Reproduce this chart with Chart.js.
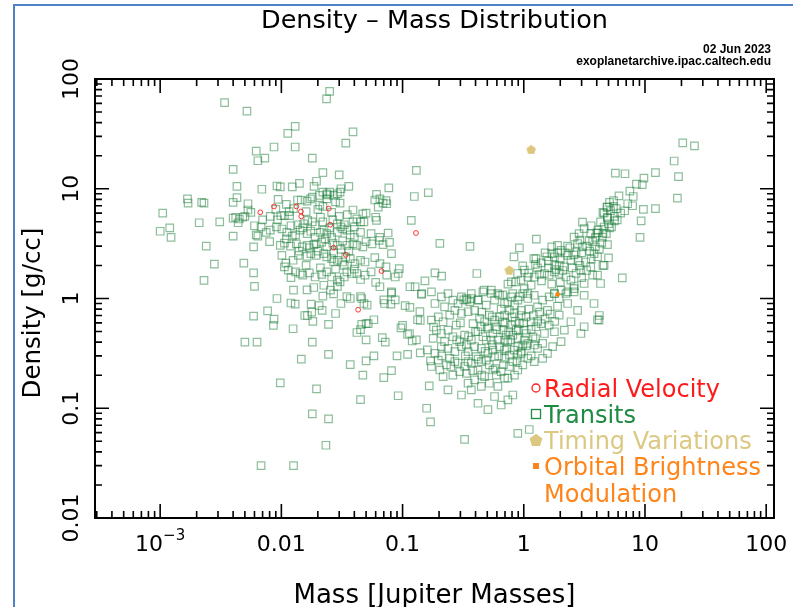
<!DOCTYPE html>
<html>
<head>
<meta charset="utf-8">
<script src="https://cdn.jsdelivr.net/npm/chart.js@4.4.0/dist/chart.umd.min.js"></script>
<style>
html,body{margin:0;padding:0;background:#fff;}
canvas{display:block;}
</style>
</head>
<body>
<canvas id="c" width="793" height="607"></canvas>
<script>
// ---- Data (mass in Jupiter masses, density in g/cc) ----
const radialVelocity = [[0.0067,6.1],[0.0087,6.9],[0.0133,6.9],[0.0145,6.2],[0.0146,5.6],[0.0246,6.6],[0.0253,4.7],[0.034,2.5],[0.027,2.9],[0.067,1.78],[0.129,3.95],[0.043,0.79]];
const timingVariations = [[1.15,22.8],[0.76,1.82]];
const orbitalBrightness = [[1.9,1.09]];
const transits = [
[0.0034,61],[0.0052,51],[0.025,77],[0.0236,66],[0.013,37],[0.0113,32],[0.039,33],[0.034,26],[0.013,24],[0.0087,24],[0.0062,22],[0.0064,18],[0.0073,19],[0.018,19],[0.004,15],[0.022,14],[0.030,13.4],[0.13,14.7],
[0.0043,10.5],[0.0069,9.9],[0.0092,10.6],[0.0098,10.4],[0.0141,11.2],[0.0123,10.4],[0.0186,10.5],[0.0195,11.7],[0.022,9.3],[0.0237,9.0],[0.025,9.3],[0.0305,9.3],[0.031,10],[0.036,10.5],[0.077,10.2],[0.125,8.5],[0.163,9.2],[0.0043,8.3],[0.0094,8.0],[0.0136,7.9],[0.0146,7.9],[0.018,8.4],[0.0206,8.7],[0.024,8.8],[0.027,8.7],[0.029,9.0],[0.061,8.9],[0.065,8.1],[0.073,7.8],
[0.00168,8.1],[0.0017,7.4],[0.0022,7.5],[0.0023,7.4],[0.0040,7.5],[0.0053,7.3],[0.0116,6.2],[0.0126,6.6],[0.0163,7.7],[0.0174,8.1],[0.0207,7.1],[0.022,6.9],[0.0237,8.1],[0.028,7.6],[0.0305,7.4],[0.039,6.4],[0.047,5.9],[0.050,6.0],[0.059,7.9],[0.069,7.4],[0.074,7.3],[0.063,6.8],
[0.00105,6.0],[0.0040,5.4],[0.0042,5.5],[0.0044,4.9],[0.0045,5.3],[0.0048,5.5],[0.0050,5.6],[0.0053,6.4],[0.0056,6.1],[0.0068,4.5],[0.0081,5.6],[0.0093,5.2],[0.0099,5.7],[0.0106,5.7],[0.0117,5.7],[0.0136,4.7],[0.0153,4.8],[0.0165,5.15],[0.018,5.0],[0.021,5.5],[0.022,5.0],[0.0266,5.2],[0.029,4.8],[0.031,4.5],[0.033,4.7],[0.039,5.0],[0.042,5.3],[0.045,5.0],[0.048,5.0],[0.060,5.5],[0.061,5.15],[0.118,5.15],
[0.0010,4.1],[0.0012,4.4],[0.00123,3.6],[0.0021,4.9],[0.0031,5.0],[0.0040,3.7],[0.0062,3.8],[0.0064,3.7],[0.0081,4.2],[0.0091,4.5],[0.0101,4.3],[0.0111,4.0],[0.0123,3.7],[0.0131,3.8],[0.0143,4.2],[0.0163,3.9],[0.0175,4.1],[0.019,3.6],[0.021,4.0],[0.0225,4.2],[0.0237,3.9],[0.026,3.6],[0.029,4.0],[0.032,4.3],[0.0347,4.2],[0.037,3.8],[0.040,4.5],[0.045,4.0],[0.055,3.9],[0.065,3.6],[0.076,3.95],
[0.0059,2.95],[0.0024,3.0],[0.0098,3.05],[0.0106,3.2],[0.0119,3.0],[0.0133,3.15],[0.0149,2.95],[0.0163,3.05],[0.0185,3.1],[0.0194,3.15],[0.0215,3.27],[0.0237,2.95],[0.0266,3.2],[0.029,3.05],[0.032,3.35],[0.0347,3.05],[0.039,3.15],[0.042,3.05],[0.047,2.95],[0.056,3.15],[0.064,3.39],[0.069,3.1],[0.078,3.25],[0.081,2.56],
[0.0101,2.47],[0.0109,2.1],[0.0125,2.23],[0.0138,2.47],[0.0163,2.42],[0.0175,2.56],[0.0194,2.47],[0.0224,2.56],[0.0237,2.39],[0.026,2.31],[0.027,2.15],[0.029,2.23],[0.032,2.15],[0.034,2.39],[0.037,2.31],[0.0405,2.08],[0.045,2.23],[0.049,2.15],[0.059,2.36],[0.065,2.08],[0.073,1.94],[0.094,1.87],[0.0049,2.1],[0.0028,2.06],
[0.0023,1.46],[0.0059,1.71],[0.0106,1.94],[0.0114,1.81],[0.0131,1.75],[0.0143,1.69],[0.015,1.63],[0.0170,1.71],[0.019,1.57],[0.0215,1.66],[0.0237,1.75],[0.026,1.57],[0.029,1.47],[0.033,1.57],[0.0347,1.75],[0.038,1.69],[0.042,1.69],[0.045,1.49],[0.049,1.63],[0.074,1.63],[0.087,1.57],[0.092,1.69],[0.115,1.28],[0.153,1.45],
[0.006,1.29],[0.0092,1.0],[0.0126,1.19],[0.0163,1.2],[0.0185,1.26],[0.0224,1.32],[0.0254,1.19],[0.029,1.29],[0.0305,1.42],[0.0347,1.04],[0.037,1.0],[0.045,1.04],[0.065,1.28],[0.070,0.97],[0.081,1.15],[0.087,0.97],[0.127,1.28],[0.144,1.11],
[0.012,0.91],[0.013,0.89],[0.0176,0.89],[0.0205,0.86],[0.0217,0.78],[0.028,0.73],[0.031,0.9],[0.046,1.0],[0.048,0.9],[0.051,0.87],[0.081,1.12],[0.071,0.9],[0.08,0.89],[0.105,0.86],[0.115,0.83],[0.143,1.09],[0.139,0.76],[0.133,0.64],[0.0059,0.69],[0.0077,0.77],[0.0087,0.65],[0.0086,0.57],[0.0125,0.53],[0.0156,0.7],[0.0164,0.7],[0.0178,0.75],[0.0182,0.62],[0.0245,0.58],[0.042,0.49],[0.045,0.52],[0.046,0.58],[0.05,0.59],[0.052,0.59],[0.05,0.42],[0.058,0.64],[0.068,0.44],[0.072,0.4],[0.097,0.54],[0.1,0.57],[0.11,0.47],[0.114,0.48],[0.12,0.41],[0.13,0.42],[0.14,0.63],[0.14,0.32],[0.16,0.34],[0.17,0.27],[0.005,0.4],[0.0063,0.4],[0.018,0.4],[0.0146,0.28],[0.0245,0.31],[0.037,0.25],[0.05,0.27],[0.058,0.3],[0.047,0.2],[0.07,0.19],[0.081,0.22],[0.09,0.3],[0.11,0.31],[0.092,0.13],[0.166,0.16],[0.158,0.1],[0.17,0.075],[0.0098,0.17],[0.0195,0.15],[0.045,0.12],[0.018,0.089],[0.0245,0.08],[0.0233,0.046],[0.0068,0.03],[0.0126,0.03],
[0.203,3.18],[0.36,2.99],[0.185,1.71],[0.21,1.6],[0.41,1.69],[1.27,3.48],[0.92,2.89],[0.83,2.39],[1.21,2.31],[1.26,2.31],[1.39,2.11],[0.98,1.98],[1.01,1.81],[0.89,1.69],[0.79,1.42],[0.86,1.42],[0.95,1.47],[1.08,1.57],[1.22,1.57],[1.35,1.66],[1.48,1.69],[1.62,1.63],[1.79,1.75],[1.96,1.69],[1.7,2.95],[1.9,3.05],[1.7,2.56],[1.79,2.39],[2.03,2.75],[2.16,1.94],[1.96,2.0],[1.84,1.83],[2.23,1.57],[2.45,1.47],[2.7,1.69],[2.96,1.81],[2.6,3.63],[2.86,3.9],[2.78,3.17],[3.05,2.95],[2.7,2.66],[2.45,2.23],[2.3,2.47],[3.15,4.33],[3.05,4.97],[3.57,3.9],[4.0,3.95],[3.46,3.39],[3.8,2.56],[3.25,2.15],[3.57,1.94],[4.6,6.0],[4.85,6.8],[4.9,5.5],[4.6,4.48],[4.45,3.63],[3.9,2.95],[4.6,2.0],[3.7,1.63],[4.3,1.37],[3.15,1.37],[2.6,1.23],[2.3,1.15],[2.03,1.19],[1.79,1.11],[1.15,1.32],[1.08,1.11],[1.01,1.23],[0.92,1.04],[0.81,1.11],[0.74,1.35],[0.67,1.08],[0.61,1.11],[0.54,1.19],[0.47,1.19],[0.42,0.97],[0.34,0.97],[0.32,0.97],[0.37,1.0],
[20.5,26.2],[25.6,24.6],[17.4,17.9],[5.7,13.9],[6.84,13.7],[9.8,12.5],[12.2,14.0],[9.5,10.9],[18.9,12.9],[18.5,8.2],[8.0,8.5],[7.2,7.3],[7.9,7.0],[9.7,6.5],[12.2,6.6],[5.1,7.5],[4.9,6.8],[5.5,6.9],[5.8,6.6],[4.5,6.1],[5.2,6.3],[5.6,5.6],[5.6,5.1],[4.9,5.4],[5.0,4.8],[5.1,4.4],[9.3,5.1],[4.06,3.95],[4.5,3.95],[9.1,3.6],[4.9,3.1],[4.06,2.4],[5.0,2.35],[4.5,2.0],[6.5,1.54],[4.06,1.63],[4.06,0.64],[4.2,0.7],
[0.173,1.15],[0.209,1.035],[0.237,1.11],[0.26,0.965],[0.306,1.035],[0.336,1.0],[0.369,1.11],[0.419,0.965],[0.46,1.15],[0.539,1.11],[0.574,0.965],[0.631,1.07],[0.694,0.9],[0.787,1.035],[0.893,0.965],[0.981,1.11],[1.08,1.0],[1.22,1.07],[1.43,0.965],[1.62,1.035],[1.79,1.11],[1.96,1.0],[2.23,1.11],[2.6,1.15],[3.15,1.07],[3.8,0.9],[4.18,0.635],[3.15,0.553],[2.96,0.48],[1.96,0.705],[2.03,0.404],[1.79,0.498],[1.48,0.48],[1.39,0.59],[1.26,0.553],[1.15,0.614],[1.045,0.68],[0.951,0.78],[0.838,0.73],[0.762,0.78],[0.694,0.705],[0.631,0.68],[0.574,0.635],[0.52,0.705],[0.475,0.614],[0.432,0.66],[0.393,0.78],[0.347,0.757],[0.306,0.73],[0.27,0.78],[0.245,0.705],[0.216,0.614],[0.197,0.68],[0.173,0.635],
[0.179,0.433],[0.209,0.48],[0.237,0.516],[0.26,0.448],[0.296,0.404],[0.325,0.464],[0.369,0.418],[0.419,0.498],[0.46,0.448],[0.506,0.534],[0.556,0.48],[0.612,0.418],[0.672,0.516],[0.739,0.404],[0.812,0.464],[0.893,0.433],[0.981,0.377],[1.08,0.39],[1.19,0.448],[1.3,0.351],[1.43,0.39],[1.57,0.316],[1.43,0.285],[1.22,0.266],[1.08,0.285],[0.951,0.316],[0.838,0.339],[0.762,0.305],[0.694,0.339],[0.631,0.364],[0.556,0.339],[0.506,0.316],[0.446,0.351],[0.393,0.364],[0.347,0.328],[0.306,0.364],[0.27,0.328],[0.237,0.351],[0.209,0.364],[0.185,0.316],
[0.173,0.24],[0.203,0.223],[0.23,0.248],[0.26,0.2],[0.296,0.216],[0.325,0.24],[0.369,0.257],[0.419,0.223],[0.475,0.194],[0.52,0.248],[0.593,0.2],[0.651,0.216],[0.762,0.24],[0.838,0.2],[0.893,0.223],[0.393,0.181],[0.446,0.158],[0.52,0.169],[0.612,0.158],[0.739,0.188],[0.306,0.132],[0.369,0.147],[0.419,0.111],[0.506,0.097],[0.651,0.107],[0.812,0.132],[0.893,0.059],[1.11,0.064],[0.325,0.052],
[0.593,0.553],[0.672,0.614],[0.787,0.571],[0.865,0.516],[0.716,0.464],[0.539,0.418],[0.893,0.305],[0.694,0.285],[0.812,0.266],[0.49,0.275],[0.405,0.295],[0.347,0.266],[0.287,0.257],[0.245,0.285],[0.197,0.275],
[0.185,0.9],[0.222,0.84],[0.287,0.9],[0.358,0.93],[0.49,0.87],[0.739,0.93],[0.838,0.87],[1.3,0.84],[1.57,0.78],[2.3,0.9],[2.78,0.78],[2.45,0.614],[2.16,0.516],[1.62,0.571],[1.01,0.516],[0.92,0.59],[0.446,0.553],[0.381,0.59],[0.277,0.571],[0.19,0.516],[0.222,0.404],[0.336,0.377],[0.49,0.418],[0.694,0.418],[1.01,0.418],[1.22,0.377],[1.73,0.364],[0.893,0.364],[0.574,0.295],[0.446,0.266],[0.27,0.266],[0.216,0.194],[0.336,0.208],[0.556,0.223],[0.694,0.188],[0.981,0.248],[0.347,0.169],[0.237,0.147],[0.574,0.128],[0.739,0.119],
[1.5,2.6],[1.6,2.2],[1.8,2.0],[2.0,2.3],[2.2,2.6],[2.4,2.9],[2.6,2.5],[2.8,2.2],[3.0,2.6],[3.3,3.0],[3.5,2.7],[3.7,3.3],[2.1,1.8],[2.5,1.9],[2.9,2.0],[3.3,1.8],[3.6,2.3],[4.2,2.8],[4.4,3.2],[3.9,3.6],[4.1,4.2],[4.8,3.9],[5.3,4.5],[5.9,5.2],[6.3,6.0],[6.8,6.3],[5.5,7.8],[6.1,8.6],[7.5,9.5],[8.5,11],[4.3,5.0],[3.6,4.6],[2.9,3.4],[2.3,3.0],[1.9,2.6],[1.6,1.9],[1.4,1.45],[1.7,1.35],[2.0,1.4],[2.6,1.3],[3.0,1.55],[1.3,1.9],[1.1,1.7],[1.25,2.05],[1.55,2.4],
[0.45,0.75],[0.5,0.55],[0.55,0.68],[0.6,0.52],[0.65,0.8],[0.7,0.6],[0.75,0.5],[0.8,0.68],[0.85,0.62],[0.9,0.52],[0.95,0.7],[1.0,0.6],[1.05,0.48],[1.1,0.8],[1.15,0.52],[1.2,0.7],[1.3,0.62],[1.35,0.75],[1.5,0.65],[1.65,0.72],[1.8,0.62],[1.9,0.85],[0.4,0.5],[0.35,0.45],[0.3,0.6],[0.28,0.42],[0.33,0.3],[0.42,0.28],[0.48,0.33],[0.55,0.38],[0.62,0.3],[0.68,0.25],[0.72,0.35],[0.78,0.42],[0.88,0.27],[0.95,0.33],[1.05,0.37],[1.15,0.3],[1.25,0.43],[0.58,0.23],[0.45,0.2],[0.38,0.22],[0.25,0.24],[0.21,0.3],[0.18,0.55],
[0.008,3.3],[0.011,3.5],[0.014,2.7],[0.017,2.9],[0.02,2.7],[0.023,3.5],[0.027,2.6],[0.031,2.8],[0.036,2.7],[0.04,3.6],[0.05,3.3],[0.012,4.6],[0.015,4.4],[0.019,4.6],[0.025,4.4],[0.03,5.6],[0.035,5.8],[0.016,6.2],[0.02,6.5],[0.026,6.1],[0.011,7.2],[0.009,6.5],[0.007,5.2],[0.0075,4.0],[0.006,4.6],[0.016,2.0],[0.021,1.9],[0.028,1.85],[0.033,2.0],[0.04,1.85],[0.012,1.55],[0.055,1.75],[0.06,1.4],[0.022,1.05],[0.027,1.1]
];

// Axis ticks and labels
const xMajorValues = [0.001, 0.01, 0.1, 1, 10, 100];
const xMajorLabels = ['10^−3', '0.01', '0.1', '1', '10', '100'];
const yMajorValues = [0.01, 0.1, 1, 10, 100];
const yMajorLabels = ['0.01', '0.1', '1', '10', '100'];

const titleText = 'Density – Mass Distribution';
const dateText = '02 Jun 2023';
const siteText = 'exoplanetarchive.ipac.caltech.edu';
const xTitle = 'Mass [Jupiter Masses]';
const yTitle = 'Density [g/cc]';
const legendItems = [
  {label: ['Radial Velocity'], color: '#ff1a1a', marker: 'circle'},
  {label: ['Transits'], color: '#1e8a42', marker: 'square'},
  {label: ['Timing Variations'], color: '#dcc882', marker: 'pentagon'},
  {label: ['Orbital Brightness', 'Modulation'], color: '#ff8419', marker: 'filled'}
];

const FONT = '"DejaVu Sans", sans-serif';
const toXY = arr => arr.map(p => ({x: p[0], y: p[1]}));

function pentagonPath(g, cx, cy, r) {
  g.beginPath();
  for (let i = 0; i < 5; i++) {
    const a = -Math.PI / 2 + i * 2 * Math.PI / 5;
    const px = cx + r * Math.cos(a), py = cy + r * Math.sin(a);
    if (i) g.lineTo(px, py); else g.moveTo(px, py);
  }
  g.closePath();
}
function pentagonCanvas(size, color) {
  const c = document.createElement('canvas');
  c.width = size; c.height = size;
  const g = c.getContext('2d');
  g.fillStyle = color;
  pentagonPath(g, size / 2, size / 2 + size * 0.06, size / 2);
  g.fill();
  return c;
}

const decor = {
  id: 'decor',
  beforeDraw(chart) {
    const ctx = chart.ctx;
    ctx.save();
    ctx.fillStyle = '#fff';
    ctx.fillRect(0, 0, chart.width, chart.height);
    ctx.restore();
  },
  afterDraw(chart) {
    const {ctx, chartArea: a, scales} = chart;
    const xs = scales.x, ys = scales.y;
    ctx.save();
    // outer blue frame
    ctx.strokeStyle = '#4f81c7';
    ctx.lineWidth = 2;
    ctx.beginPath();
    ctx.moveTo(14, 607); ctx.lineTo(14, 5); ctx.lineTo(793, 5);
    ctx.stroke();

    // plot box
    ctx.strokeStyle = '#000';
    ctx.lineWidth = 2;
    ctx.strokeRect(a.left, a.top, a.right - a.left, a.bottom - a.top);

    // ticks
    ctx.lineWidth = 1.6;
    ctx.beginPath();
    const xmin = xs.min, xmax = xs.max, ymin = ys.min, ymax = ys.max;
    for (let d = Math.floor(Math.log10(xmin)); d <= Math.ceil(Math.log10(xmax)); d++) {
      for (let k = 1; k <= 9; k++) {
        const v = k * Math.pow(10, d);
        if (v < xmin * 1.001 || v > xmax * 0.999) continue;
        const px = xs.getPixelForValue(v);
        const len = k === 1 ? 14 : 7;
        ctx.moveTo(px, a.bottom); ctx.lineTo(px, a.bottom - len);
        ctx.moveTo(px, a.top); ctx.lineTo(px, a.top + len);
      }
    }
    for (let d = Math.floor(Math.log10(ymin)); d <= Math.ceil(Math.log10(ymax)); d++) {
      for (let k = 1; k <= 9; k++) {
        const v = k * Math.pow(10, d);
        if (v < ymin * 1.001 || v > ymax * 0.999) continue;
        const py = ys.getPixelForValue(v);
        const len = k === 1 ? 14 : 7;
        ctx.moveTo(a.left, py); ctx.lineTo(a.left + len, py);
        ctx.moveTo(a.right, py); ctx.lineTo(a.right - len, py);
      }
    }
    ctx.stroke();

    // x tick labels
    ctx.fillStyle = '#000';
    ctx.textBaseline = 'alphabetic';
    const lblFont = '22px ' + FONT, supFont = '15px ' + FONT;
    xMajorValues.forEach((v, i) => {
      const px = xs.getPixelForValue(v);
      const lab = xMajorLabels[i];
      const base = 551;
      if (lab.includes('^')) {
        const [b, e] = lab.split('^');
        ctx.font = lblFont; const wb = ctx.measureText(b).width;
        ctx.font = supFont; const we = ctx.measureText(e).width;
        const x0 = px - (wb + we) / 2;
        ctx.font = lblFont; ctx.textAlign = 'left'; ctx.fillText(b, x0, base);
        ctx.font = supFont; ctx.fillText(e, x0 + wb, base - 11);
      } else {
        ctx.font = lblFont; ctx.textAlign = 'center';
        ctx.fillText(lab, px, base);
      }
    });
    // y tick labels (rotated)
    yMajorValues.forEach((v, i) => {
      const py = ys.getPixelForValue(v);
      ctx.save();
      ctx.translate(78, py);
      ctx.rotate(-Math.PI / 2);
      ctx.font = lblFont; ctx.textAlign = 'center';
      ctx.fillText(yMajorLabels[i], 0, 0);
      ctx.restore();
    });

    // axis titles
    ctx.font = '26px ' + FONT;
    ctx.textAlign = 'center';
    ctx.fillText(xTitle, (a.left + a.right) / 2, 603);
    ctx.save();
    ctx.font = '24.5px ' + FONT;
    ctx.translate(40, 313);
    ctx.rotate(-Math.PI / 2);
    ctx.fillText(yTitle, 0, 0);
    ctx.restore();

    // title
    ctx.font = '25.5px ' + FONT;
    ctx.fillText(titleText, (a.left + a.right) / 2, 28);
    ctx.font = 'bold 12px "Liberation Sans", sans-serif';
    ctx.textAlign = 'right';
    ctx.fillText(dateText, 771, 53);
    ctx.fillText(siteText, 771, 65);

    // legend
    const lx = 536, tx = 544;
    const baselines = [[397], [423], [449], [475, 502]];
    ctx.textAlign = 'left';
    ctx.font = '24px ' + FONT;
    legendItems.forEach((it, i) => {
      const bl = baselines[i];
      const my = bl[0] - 9;
      ctx.fillStyle = it.color;
      ctx.strokeStyle = it.color;
      ctx.lineWidth = 1.3;
      if (it.marker === 'circle') {
        ctx.beginPath(); ctx.arc(lx, my, 4, 0, Math.PI * 2); ctx.stroke();
      } else if (it.marker === 'square') {
        ctx.strokeRect(lx - 4.5, my - 4.5, 9, 9);
      } else if (it.marker === 'pentagon') {
        pentagonPath(ctx, lx, my + 0.5, 6.8); ctx.fill();
      } else {
        ctx.fillRect(lx - 3, my - 3, 6, 6);
      }
      it.label.forEach((t, j) => ctx.fillText(t, tx, bl[j]));
    });
    ctx.restore();
  }
};

new Chart(document.getElementById('c'), {
  type: 'scatter',
  data: {
    datasets: [
      {label: 'Radial Velocity', data: toXY(radialVelocity), pointStyle: 'circle', pointRadius: 2.4,
       borderColor: 'rgba(255,20,20,0.85)', backgroundColor: 'rgba(0,0,0,0)', borderWidth: 1},
      {label: 'Timing Variations', data: toXY(timingVariations), pointStyle: pentagonCanvas(10, '#dcc67c'), pointRadius: 5},
      {label: 'Orbital Brightness Modulation', data: toXY(orbitalBrightness), pointStyle: 'rect', pointRadius: 2.8,
       backgroundColor: '#ff8000', borderColor: '#ff8000', borderWidth: 0},
      {label: 'Transits', data: toXY(transits), pointStyle: 'rect', pointRadius: 5.3,
       borderColor: 'rgba(25,125,55,0.5)', backgroundColor: 'rgba(0,0,0,0)', borderWidth: 1.2}
    ]
  },
  options: {
    responsive: false,
    animation: false,
    devicePixelRatio: 1,
    layout: {padding: {left: 95, right: 19, top: 79, bottom: 89}},
    plugins: {legend: {display: false}, tooltip: {enabled: false}, title: {display: false}},
    scales: {
      x: {type: 'logarithmic', display: false, min: 2.9e-4, max: 116},
      y: {type: 'logarithmic', display: false, min: 0.01, max: 100}
    }
  },
  plugins: [decor]
});
</script>
</body>
</html>
